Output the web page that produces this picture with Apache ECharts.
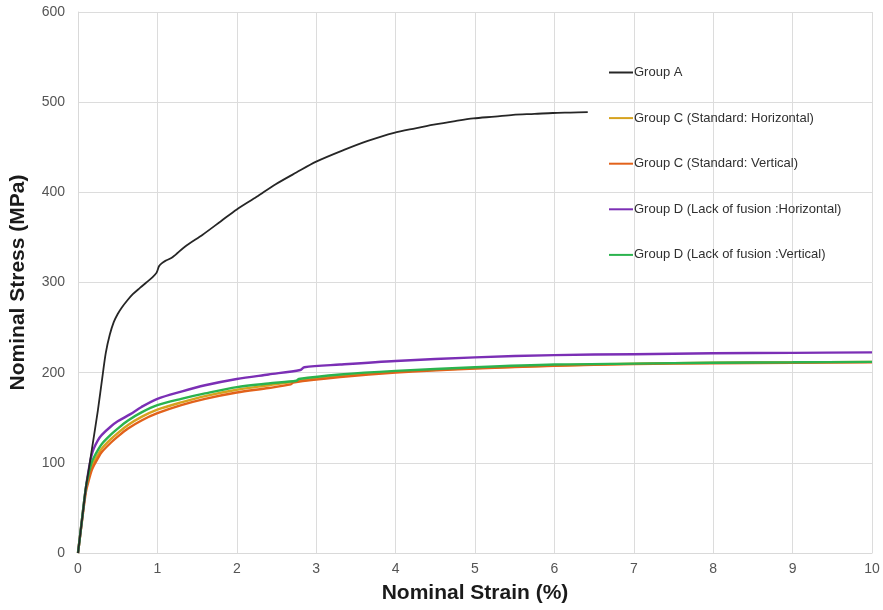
<!DOCTYPE html>
<html>
<head>
<meta charset="utf-8">
<script src="https://cdn.jsdelivr.net/npm/echarts@6/dist/echarts.min.js"></script>
<style>html,body{margin:0;padding:0;background:#fff;}#c{width:883px;height:610px;}</style>
</head>
<body>
<div id="c"></div>
<script>
// Tick labels
var xTicks = [0,1,2,3,4,5,6,7,8,9,10];
var yTicks = [0,100,200,300,400,500,600];

// Series names
var names = [
  'Group A',
  'Group C (Standard: Horizontal)',
  'Group C (Standard: Vertical)',
  'Group D (Lack of fusion :Horizontal)',
  'Group D (Lack of fusion :Vertical)'
];

// Group A (strain %, stress MPa)
var groupA_strain = [0,0.06,0.1,0.14,0.18,0.25,0.31,0.35,0.4,0.45,0.5,0.55,0.62,0.69,0.78,0.86,0.94,0.99,1.02,1.05,1.1,1.19,1.35,1.57,1.8,2.0,2.25,2.49,2.75,3.0,3.35,3.65,3.98,4.25,4.48,4.75,4.98,5.25,5.48,5.75,5.98,6.2,6.42];
var groupA_stress = [0,44,73,95,118,158,197,222,242,256,265,272,280,287,294,300,306,311,318,321,324,328,340,353,368,381,395,409,422,434,447,457,466,471,475,479,482,484,486,487,488,488.5,489];

// Group C Horizontal
var groupCH_strain = [0,0.05,0.1,0.14,0.17,0.2,0.25,0.3,0.41,0.5,0.63,0.8,1.0,1.3,1.6,2.0,2.4,2.8,3.3,4.0,5.0,6.0,7.0,8.0,9.0,10.0];
var groupCH_stress = [0,37,72,87,96,101,109,116,126,133,142,151,159,167,174,181,186,191,196,201,205,208,210,211,211.5,212];

// Group C Vertical
var groupCV_strain = [0,0.05,0.1,0.14,0.17,0.2,0.25,0.3,0.41,0.5,0.63,0.8,1.0,1.3,1.6,2.0,2.4,2.68,2.71,3.3,4.0,5.0,6.0,7.0,8.0,9.0,10.0];
var groupCV_stress = [0,35,68,82,91,97,105,112,122,129,138,147,155,164,171,178,183,187,189,195,200,204.5,207.5,209.5,210.5,211,211.5];

// Group D Horizontal
var groupDH_strain = [0,0.05,0.1,0.14,0.17,0.2,0.25,0.3,0.41,0.5,0.66,0.8,1.0,1.3,1.6,2.0,2.4,2.8,2.85,3.3,4.0,5.0,6.0,7.0,8.0,9.0,10.0];
var groupDH_stress = [0,37,73,95,108,116,125,131,140,146,154,162,171,179,186,193,198,203,206,209,213,217,219.5,220.5,221.5,222,222.5];

// Group D Vertical
var groupDV_strain = [0,0.05,0.1,0.14,0.17,0.2,0.25,0.3,0.41,0.5,0.63,0.8,1.0,1.3,1.6,2.0,2.4,2.75,2.78,3.3,4.0,5.0,6.0,7.0,8.0,9.0,10.0];
var groupDV_stress = [0,37,73,90,100,106,114,121,131,138,147,156,164,171,177,184,188,191,193,198,202,206,209,210,211,211.5,212];

var colors = ['#262626','#D6A21E','#E2621B','#7B2FB5','#2BB34E'];

function pairs(xs, ys){ return xs.map(function(x,i){ return [x, ys[i]]; }); }

var seriesData = [
  pairs(groupA_strain, groupA_stress),
  pairs(groupCH_strain, groupCH_stress),
  pairs(groupCV_strain, groupCV_stress),
  pairs(groupDH_strain, groupDH_stress),
  pairs(groupDV_strain, groupDV_stress)
];
var widths = [1.8, 2.4, 2.4, 2.4, 2.4];

var chart = echarts.init(document.getElementById('c'), null, {renderer:'canvas'});
chart.setOption({
  animation: false,
  backgroundColor: '#ffffff',
  grid: {left: 77, right: 11, top: 12, bottom: 57, containLabel: false},
  legend: {
    orient: 'vertical',
    left: 604,
    top: 61,
    itemWidth: 24,
    itemHeight: 2,
    itemGap: 32.6,
    icon: 'rect',
    data: names,
    textStyle: {fontFamily: 'Liberation Sans, Arial, sans-serif', fontSize: 13, color: '#303030', padding: [0,0,0,-4]}
  },
  xAxis: {
    type: 'value', min: xTicks[0], max: xTicks[xTicks.length-1], interval: 1,
    name: 'Nominal Strain (%)', nameLocation: 'middle', nameGap: 30,
    nameTextStyle: {fontFamily: 'Liberation Sans, Arial, sans-serif', fontSize: 21, fontWeight: 'bold', color: '#1a1a1a'},
    axisLine: {show: true, lineStyle: {color: '#d9d9d9', width: 1}},
    axisTick: {show: false},
    axisLabel: {margin: 9, fontFamily: 'Liberation Sans, Arial, sans-serif', fontSize: 14, color: '#555555'},
    splitLine: {show: true, lineStyle: {color: '#dcdcdc', width: 1}}
  },
  yAxis: {
    type: 'value', min: yTicks[0], max: yTicks[yTicks.length-1], interval: 100,
    name: 'Nominal Stress (MPa)', nameLocation: 'middle', nameGap: 49, nameRotate: 90,
    nameTextStyle: {fontFamily: 'Liberation Sans, Arial, sans-serif', fontSize: 21, fontWeight: 'bold', color: '#1a1a1a'},
    axisLine: {show: true, lineStyle: {color: '#d9d9d9', width: 1}},
    axisTick: {show: false},
    axisLabel: {margin: 13, fontFamily: 'Liberation Sans, Arial, sans-serif', fontSize: 14, color: '#555555'},
    splitLine: {show: true, lineStyle: {color: '#dcdcdc', width: 1}}
  },
  series: names.map(function(n, i){
    return {
      name: n, type: 'line', data: seriesData[i],
      showSymbol: false, symbol: 'none', smooth: 0.3,
      lineStyle: {color: colors[i], width: widths[i]},
      itemStyle: {color: colors[i]}, z: i === 0 ? 3 : 2
    };
  })
});
</script>
</body>
</html>
